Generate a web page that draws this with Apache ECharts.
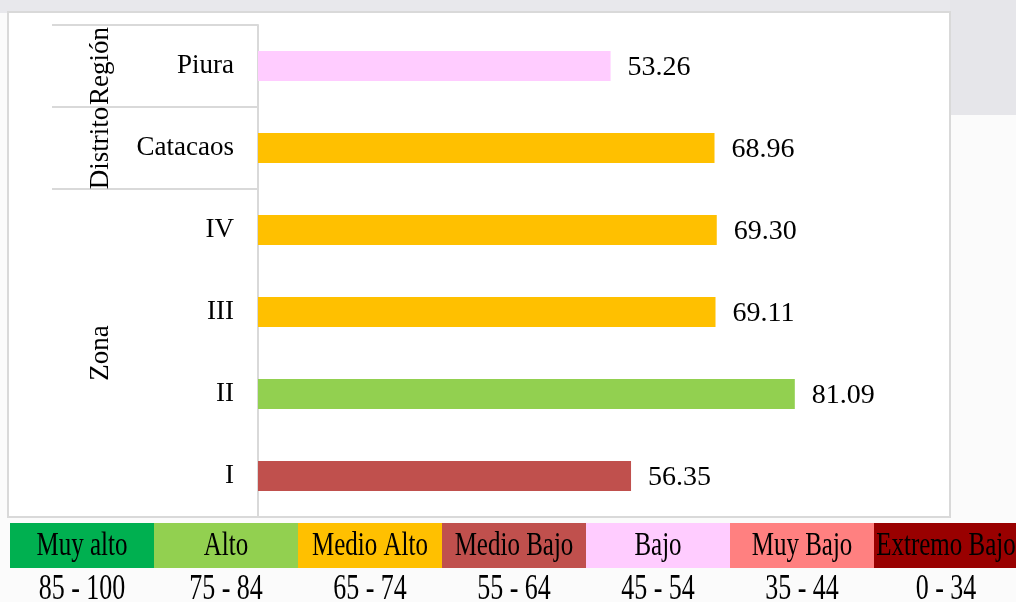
<!DOCTYPE html>
<html>
<head>
<meta charset="utf-8">
<title>Índice por zona</title>
<script src="https://cdn.jsdelivr.net/npm/echarts@6/dist/echarts.min.js"></script>
<style>
	html, body { margin: 0; padding: 0; background: #fbfbfb; }
	#main { width: 1016px; height: 602px; }
</style>
</head>
<body>
<div id="main"></div>
<script>
// datos
var categorias = ['Piura', 'Catacaos', 'IV', 'III', 'II', 'I'];
var valores = [53.26, 68.96, 69.30, 69.11, 81.09, 56.35];
var grupos = ['Región', 'Distrito', 'Zona'];
var gruposTam = [1, 1, 4]; // cuantas categorias abarca cada grupo
var niveles = ['Muy alto', 'Alto', 'Medio Alto', 'Medio Bajo', 'Bajo', 'Muy Bajo', 'Extremo Bajo'];
var rangos = ['85 - 100', '75 - 84', '65 - 74', '55 - 64', '45 - 54', '35 - 44', '0 - 34'];

// estilos
var coloresNivel = ['#00B050', '#92D050', '#FFC000', '#C0504D', '#FFCCFF', '#FF8080', '#990000'];
var fuente = "'Liberation Serif', 'Times New Roman', serif";
var gris = '#d9d9d9';

//color segun el rango donde cae el valor
function colorDe(v) {
	for (var i = 0; i < rangos.length; i++) {
		var minimo = parseFloat(rangos[i].split(' - ')[0]);
		if (v >= minimo) return coloresNivel[i];
	}
	return coloresNivel[coloresNivel.length - 1];
}

//limites y centros de los grupos
var limites = [0];
var centros = [];
for (var g = 0; g < gruposTam.length; g++) {
	centros.push(limites[g] + gruposTam[g] / 2);
	limites.push(limites[g] + gruposTam[g]);
}
limites.pop(); // el ultimo es el borde del recuadro

var datosBarra = [];
for (var i = 0; i < valores.length; i++) {
	datosBarra.push({ value: valores[i], itemStyle: { color: colorDe(valores[i]) } });
}

//fondo, recuadro y leyenda inferior
var graficos = [
	{ type: 'rect', z: -20, silent: true, shape: { x: 0, y: 0, width: 1016, height: 13 }, style: { fill: '#e8e8ec' } },
	{ type: 'rect', z: -20, silent: true, shape: { x: 950, y: 0, width: 66, height: 115 }, style: { fill: '#e6e6ea' } },
	{ type: 'rect', z: -10, silent: true, shape: { x: 8, y: 12, width: 942, height: 505 }, style: { fill: '#ffffff', stroke: gris, lineWidth: 2 } }
];
var anchoCelda = 144;
for (var k = 0; k < niveles.length; k++) {
	var x0 = 10 + k * anchoCelda;
	graficos.push({
		type: 'rect', silent: true,
		shape: { x: x0, y: 523, width: anchoCelda, height: 45 },
		style: { fill: coloresNivel[k] }
	});
	graficos.push({
		type: 'text', silent: true, z: 5,
		x: x0 + anchoCelda / 2, y: 546, scaleY: 1.36,
		style: { text: niveles[k], fill: '#000', font: '25px ' + fuente, textAlign: 'center', textVerticalAlign: 'middle' }
	});
	graficos.push({
		type: 'text', silent: true, z: 5,
		x: x0 + anchoCelda / 2, y: 590, scaleY: 1.34,
		style: { text: rangos[k], fill: '#000', font: '26px ' + fuente, textAlign: 'center', textVerticalAlign: 'middle' }
	});
}

var option = {
	backgroundColor: '#fbfbfb',
	animation: false,
	graphic: graficos,
	grid: { left: 258, right: 96, top: 25, bottom: 85 },
	xAxis: {
		type: 'value', min: 0, max: 100,
		axisLine: { show: false }, axisTick: { show: false },
		axisLabel: { show: false }, splitLine: { show: false }
	},
	yAxis: [{
		type: 'category',
		data: categorias,
		inverse: true,
		axisLine: { lineStyle: { color: gris, width: 2 } },
		axisTick: { show: false },
		axisLabel: { color: '#000', fontSize: 27, fontFamily: fuente, margin: 24, padding: [4, 0, 0, 0] }
	}, {
		//eje de grupos (Región / Distrito / Zona)
		type: 'value',
		position: 'left',
		min: 0, max: categorias.length,
		inverse: true,
		axisLine: { show: false },
		splitLine: { show: false },
		axisTick: { show: true, customValues: limites, length: 206, lineStyle: { color: gris, width: 2 } },
		axisLabel: {
			customValues: centros,
			rotate: 90,
			margin: 144,
			color: '#000', fontSize: 27, fontFamily: fuente,
			formatter: function(v) {
				var idx = centros.indexOf(v);
				return idx >= 0 ? grupos[idx] : '';
			}
		}
	}],
	series: [{
		name: 'Índice',
		type: 'bar',
		yAxisIndex: 0,
		barWidth: 30,
		data: datosBarra,
		label: {
			show: true, position: 'right', distance: 17, offset: [0, 2],
			color: '#000', fontSize: 28, fontFamily: fuente,
			formatter: function(p) { return p.value.toFixed(2); }
		}
	}]
};

echarts.init(document.getElementById('main')).setOption(option);
</script>
</body>
</html>
